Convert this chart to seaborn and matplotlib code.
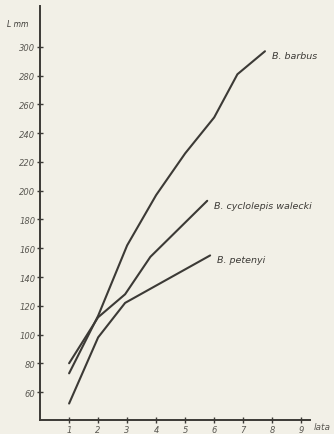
import pandas as pd
import seaborn as sns
import matplotlib.pyplot as plt

# wiek (lata) i dlugosc L (mm)
wiek_barbus = [1, 2, 3, 4, 5, 6, 6.8, 7.75]
dl_barbus = [73, 113, 162, 197, 226, 251, 281, 297]

wiek_cyclolepis = [1, 2, 2.93, 3.8, 5.76]
dl_cyclolepis = [80, 112, 128, 154, 193]

wiek_petenyi = [1, 2, 2.93, 5.86]
dl_petenyi = [52, 98, 122, 155]

gatunki = ['B. barbus', 'B. cyclolepis walecki', 'B. petenyi']
y_ticks = list(range(60, 301, 20))
x_ticks = list(range(1, 10))

tlo = '#f2f0e7'
kolor = '#3c3a36'

df = pd.concat([
    pd.DataFrame({'wiek': wiek_barbus, 'L': dl_barbus, 'gatunek': gatunki[0]}),
    pd.DataFrame({'wiek': wiek_cyclolepis, 'L': dl_cyclolepis, 'gatunek': gatunki[1]}),
    pd.DataFrame({'wiek': wiek_petenyi, 'L': dl_petenyi, 'gatunek': gatunki[2]}),
])

sns.set_style('ticks')
plt.rcParams['font.family'] = ['DejaVu Sans']

fig = plt.figure(figsize=(3.34, 4.35), dpi=100, facecolor=tlo)
ax = fig.add_axes([0.12, 0.032, 0.808, 0.952])
ax.set_facecolor(tlo)

sns.lineplot(data=df, x='wiek', y='L', hue='gatunek', sort=False,
             palette={g: kolor for g in gatunki}, linewidth=1.5,
             legend=False, ax=ax)

# podpisy gatunkow przy koncach linii
for g, wx, wy in [(gatunki[0], wiek_barbus, dl_barbus),
                  (gatunki[1], wiek_cyclolepis, dl_cyclolepis),
                  (gatunki[2], wiek_petenyi, dl_petenyi)]:
    ax.text(wx[-1] + 0.25, wy[-1] - 3, g, fontsize=6.8, style='italic',
            color=kolor, va='center', ha='left')

ax.set_xlim(0, 9.3)
ax.set_ylim(40.5, 328.5)
ax.set_xticks(x_ticks)
ax.set_yticks(y_ticks)
ax.tick_params(direction='inout', length=4, width=1, colors=kolor,
               labelsize=6, pad=1.5)
for lab in ax.get_xticklabels() + ax.get_yticklabels():
    lab.set_style('italic')
    lab.set_color('#5a5852')
ax.set_xlabel('')
ax.set_ylabel('')
sns.despine(ax=ax)
for s in ['left', 'bottom']:
    ax.spines[s].set_color(kolor)
    ax.spines[s].set_linewidth(1.4)

fig.text(0.02, 0.938, 'L mm', fontsize=5.5, style='italic', color=kolor)
fig.text(0.94, 0.012, 'lata', fontsize=6.5, style='italic', color='#5a5852')

plt.savefig('out.png', dpi=100, facecolor=tlo)
